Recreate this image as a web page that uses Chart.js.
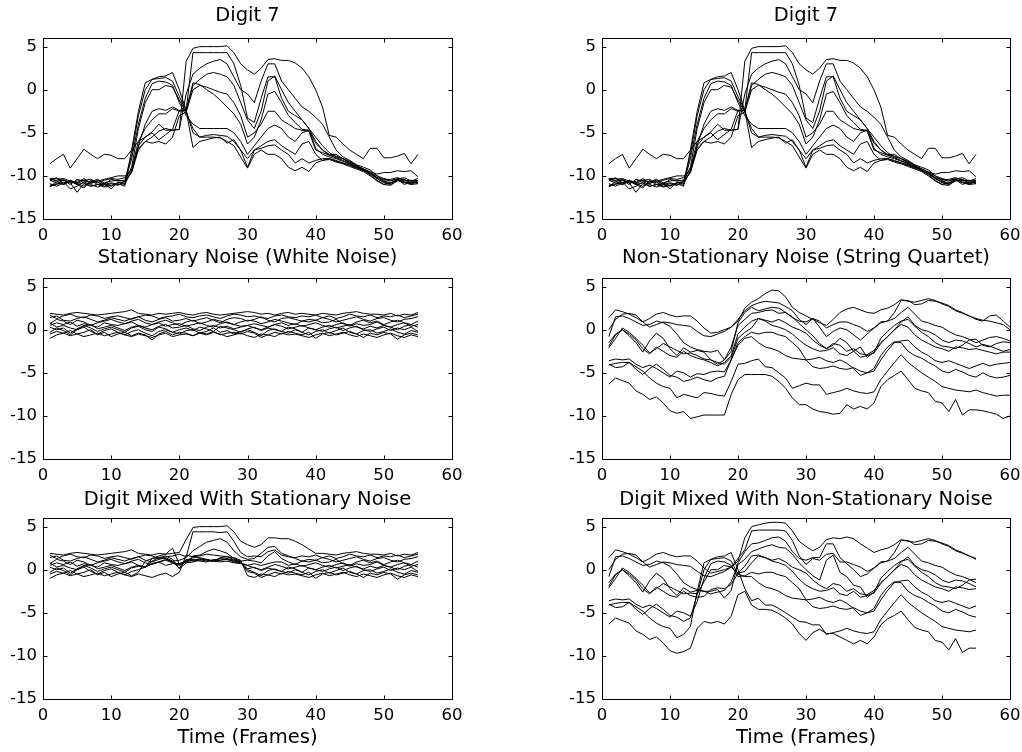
<!DOCTYPE html>
<html lang="en">
<head>
<meta charset="UTF-8">
<title>Digit 7 and noise</title>
<script src="https://cdn.jsdelivr.net/npm/chart.js@4.4.1/dist/chart.umd.min.js"></script>
<style>
  html, body { margin: 0; padding: 0; background: #fff; overflow: hidden; }
  .panel { position: absolute; }
</style>
</head>
<body>
<div class="panel" style="left:0;top:0;width:480px;height:245px"><canvas id="p1"></canvas></div>
<div class="panel" style="left:559px;top:0;width:463px;height:245px"><canvas id="p2"></canvas></div>
<div class="panel" style="left:0;top:245px;width:480px;height:242px"><canvas id="p3"></canvas></div>
<div class="panel" style="left:559px;top:245px;width:463px;height:242px"><canvas id="p4"></canvas></div>
<div class="panel" style="left:0;top:487px;width:480px;height:265px"><canvas id="p5"></canvas></div>
<div class="panel" style="left:559px;top:487px;width:463px;height:265px"><canvas id="p6"></canvas></div>

<script>
const frames55 = [1,2,3,4,5,6,7,8,9,10,11,12,13,14,15,16,17,18,19,20,21,22,23,24,25,26,27,28,29,30,
  31,32,33,34,35,36,37,38,39,40,41,42,43,44,45,46,47,48,49,50,51,52,53,54,55];
const frames60 = [1,2,3,4,5,6,7,8,9,10,11,12,13,14,15,16,17,18,19,20,21,22,23,24,25,26,27,28,29,30,
  31,32,33,34,35,36,37,38,39,40,41,42,43,44,45,46,47,48,49,50,51,52,53,54,55,56,57,58,59,60];
const xTickValues = [0, 10, 20, 30, 40, 50, 60];
const yTickValues = [-15, -10, -5, 0, 5];

// clean digit, one row per channel
const digit7 = [
  [-8.6,-8.0,-7.5,-9.1,-8.0,-6.9,-7.5,-8.0,-7.5,-7.6,-8.0,-8.0,-7.0,-6.0,-5.5,-4.9,-4.0,-4.7,-4.7,-4.6,3.3,4.8,5.0,5.0,5.0,5.0,5.1,4.3,3.0,2.3,1.8,2.5,3.5,3.6,3.4,3.4,3.1,2.5,1.5,0.0,-2.0,-5.3,-5.5,-6.3,-7.0,-7.5,-8.0,-6.8,-6.8,-7.9,-7.9,-7.7,-7.4,-8.6,-7.5],
  [-10.3,-10.3,-10.4,-10.8,-10.6,-10.5,-10.7,-10.6,-10.4,-10.2,-10.0,-10.0,-9.5,-6.5,-5.5,-5.0,-5.8,-5.2,-4.6,-2.4,-2.4,4.3,4.3,4.3,4.3,4.3,4.3,3.0,0.5,-3.3,-3.8,-1.0,1.5,1.5,-1.0,-2.5,-3.0,-3.5,-4.5,-6.0,-7.0,-7.5,-7.5,-8.0,-8.3,-8.8,-9.2,-9.5,-9.8,-9.6,-9.6,-9.4,-9.5,-9.4,-10.1],
  [-10.6,-10.2,-10.9,-10.5,-10.8,-10.3,-10.9,-10.5,-11.0,-10.4,-10.6,-10.5,-9.6,-7.0,-6.0,-5.5,-4.8,-4.5,-4.7,-4.6,-0.5,1.8,2.5,3.0,3.3,3.5,3.0,1.5,0.0,-0.5,-1.5,1.0,3.0,3.0,1.0,0.0,-1.0,-2.0,-2.5,-3.2,-4.0,-5.5,-7.0,-7.8,-8.2,-8.7,-9.0,-9.3,-10.0,-10.3,-10.5,-10.4,-10.2,-10.6,-10.5],
  [-10.4,-10.5,-10.3,-10.6,-10.9,-10.5,-10.4,-10.8,-10.5,-10.3,-10.4,-10.2,-9.2,-6.0,-4.5,-3.5,-2.8,-2.8,-2.2,-2.5,-2.4,0.5,1.2,1.8,2.0,1.8,1.5,0.5,-1.5,-3.5,-4.5,-2.5,1.0,1.6,0.0,-1.5,-2.5,-3.5,-4.5,-5.5,-6.5,-7.3,-7.8,-8.0,-8.4,-8.8,-9.2,-9.6,-10.0,-10.5,-10.4,-10.2,-10.5,-10.6,-10.3],
  [-10.9,-11.2,-10.8,-10.6,-11.0,-10.8,-11.2,-11.0,-10.9,-11.2,-10.8,-10.7,-9.6,-6.5,-4.0,-2.5,-2.2,-2.4,-2.0,-2.4,-2.4,0.8,0.6,0.0,-0.5,-1.2,-2.0,-2.8,-4.0,-6.3,-5.5,-3.5,-0.5,-0.2,-1.5,-3.0,-3.8,-4.6,-4.7,-6.8,-7.5,-7.8,-8.0,-8.3,-8.6,-9.0,-9.3,-9.7,-10.2,-10.6,-10.8,-10.5,-10.7,-10.9,-10.6],
  [-10.3,-10.6,-10.5,-11.0,-10.4,-10.6,-10.7,-10.4,-10.8,-10.6,-10.5,-10.6,-9.0,-4.5,-1.5,0.0,0.0,0.5,0.3,-1.2,-2.6,0.0,0.5,0.3,0.0,-0.3,-0.5,-1.5,-3.0,-5.5,-5.0,-4.0,-2.5,-2.5,-3.5,-4.0,-4.5,-4.7,-4.8,-7.0,-7.3,-7.6,-7.7,-8.0,-8.5,-8.9,-9.2,-9.6,-10.2,-10.4,-10.6,-10.3,-10.4,-10.8,-10.8],
  [-11.2,-11.0,-10.7,-11.5,-11.2,-10.7,-11.0,-11.3,-11.0,-10.8,-11.0,-10.9,-8.0,-4.0,-1.0,0.7,1.0,0.9,0.5,-1.5,-3.0,-4.0,-4.5,-4.5,-4.5,-4.5,-4.5,-5.0,-6.0,-7.5,-6.5,-5.5,-4.5,-4.1,-4.5,-5.5,-6.0,-5.0,-4.7,-6.2,-7.0,-7.6,-7.9,-8.2,-8.6,-9.0,-9.4,-9.8,-10.3,-10.7,-10.9,-10.4,-10.6,-10.5,-10.9],
  [-10.5,-10.8,-11.0,-10.6,-10.9,-11.2,-10.8,-10.7,-11.2,-10.9,-11.1,-10.6,-7.5,-3.0,0.0,1.2,1.3,1.4,1.0,-0.8,-2.4,-5.0,-5.5,-5.3,-5.2,-5.3,-5.4,-6.0,-7.0,-8.0,-7.0,-6.5,-6.0,-5.8,-6.5,-7.0,-7.5,-6.3,-6.0,-7.5,-8.2,-8.0,-8.3,-8.5,-8.7,-9.0,-9.4,-9.7,-10.3,-10.8,-11.0,-10.6,-10.4,-11.0,-10.5],
  [-11.1,-10.9,-10.5,-10.8,-11.9,-10.9,-11.2,-11.0,-11.3,-11.1,-10.9,-11.2,-7.0,-2.5,0.8,1.2,1.5,1.6,2.0,0.0,-2.4,-6.7,-6.0,-5.8,-5.6,-5.5,-6.2,-5.8,-7.0,-9.0,-7.0,-6.8,-6.5,-6.4,-7.0,-7.5,-8.5,-8.0,-8.5,-8.2,-8.0,-8.0,-8.2,-8.5,-8.8,-9.1,-9.3,-9.9,-10.5,-11.0,-10.8,-10.4,-11.0,-10.7,-10.8],
  [-11.3,-10.6,-11.0,-10.6,-11.0,-11.4,-10.5,-11.0,-10.9,-11.5,-10.7,-11.0,-9.4,-6.8,-6.0,-6.2,-6.0,-6.3,-5.5,-3.0,-2.6,-4.5,-5.5,-5.5,-5.5,-5.6,-6.0,-6.5,-7.8,-9.1,-7.5,-7.0,-7.5,-7.5,-8.0,-9.0,-9.4,-9.0,-9.5,-8.5,-8.2,-8.1,-8.4,-8.6,-8.9,-9.2,-9.5,-10.0,-10.6,-11.0,-11.1,-10.5,-10.8,-11.0,-10.9]
];

// white noise
const whiteNoise = [
  [1.9,1.8,1.7,1.9,2.0,1.9,1.8,1.7,1.8,1.9,2.0,2.1,2.3,1.9,1.8,1.7,1.9,1.8,1.9,2.0,1.8,1.7,1.9,2.0,1.8,1.7,1.8,1.9,2.0,2.1,2.0,1.8,1.9,1.7,1.9,2.0,1.8,1.9,1.8,1.7,1.9,1.8,1.7,1.9,2.0,2.1,1.9,1.8,1.8,1.7,1.9,1.6,1.8,1.7,2.0],
  [1.7,1.3,1.6,1.8,1.5,1.4,1.7,1.6,1.3,1.5,1.6,1.4,1.2,1.5,1.7,1.6,1.3,1.5,1.6,1.8,1.5,1.4,1.6,1.7,1.5,1.3,1.6,1.8,1.7,1.5,1.6,1.4,1.3,1.6,1.7,1.5,1.4,1.6,1.5,1.7,1.4,1.6,1.3,1.5,1.8,1.6,1.5,1.7,1.4,1.6,1.5,1.7,1.4,1.6,1.8],
  [1.4,1.6,1.1,1.0,1.3,1.5,1.2,0.9,1.1,1.4,1.2,1.0,1.3,1.5,1.1,0.9,1.2,1.4,1.0,1.1,1.3,1.0,1.2,1.4,1.1,0.8,1.2,1.4,1.3,1.0,1.2,1.5,1.1,0.9,1.3,1.4,1.2,1.0,1.2,1.1,1.4,1.2,0.9,1.1,1.3,1.5,1.2,1.0,1.3,1.4,1.1,0.9,1.2,1.3,1.5],
  [0.7,1.2,1.0,0.6,1.1,0.9,0.5,0.8,1.0,1.2,0.9,0.7,1.0,1.2,0.8,0.6,0.9,1.1,0.8,0.5,0.9,1.1,0.7,0.9,1.2,1.0,0.8,0.6,0.9,1.1,1.0,0.7,0.9,1.2,1.0,0.8,0.6,1.0,0.9,1.1,0.8,0.9,1.2,0.7,0.5,0.9,1.1,0.8,1.0,0.6,0.9,1.1,0.8,0.6,1.0],
  [0.5,0.8,0.6,0.9,0.4,0.7,0.5,0.3,0.8,0.6,0.5,0.7,0.9,0.5,0.3,0.6,0.8,0.4,0.6,0.7,0.4,0.6,0.8,0.5,0.3,0.7,0.9,0.6,0.4,0.5,0.7,0.5,0.3,0.6,0.8,0.5,0.7,0.4,0.6,0.8,0.5,0.3,0.6,0.8,0.4,0.7,0.5,0.6,0.9,0.5,0.3,0.6,0.8,0.4,0.6],
  [0.8,0.3,0.5,0.2,0.0,0.4,0.6,0.1,0.3,0.5,0.2,-0.1,0.3,0.5,0.2,0.0,0.4,0.6,0.2,0.3,0.5,0.1,-0.1,0.3,0.5,0.2,0.4,0.1,0.3,0.5,0.2,0.0,0.3,0.6,0.4,0.1,0.3,0.5,0.2,0.0,0.3,0.5,0.2,0.4,0.6,0.3,0.1,0.4,0.2,0.5,0.3,0.0,0.4,0.6,0.3],
  [0.3,0.0,0.2,-0.4,0.1,0.5,0.2,-0.2,0.1,0.3,0.0,-0.3,0.2,0.4,0.0,-0.2,0.3,0.1,-0.3,0.0,0.2,-0.1,0.3,0.1,-0.2,0.4,0.2,0.0,-0.3,0.1,0.3,-0.1,0.2,0.0,-0.2,0.3,0.1,-0.3,0.2,0.0,-0.2,0.1,0.3,-0.1,0.2,0.4,0.0,-0.2,0.1,0.3,-0.1,0.2,0.0,0.3,-0.2],
  [-0.3,0.2,-0.1,-0.6,0.0,0.3,-0.2,-0.5,-0.1,0.1,-0.3,-0.6,-0.2,0.0,-0.4,-0.7,-0.2,0.0,-0.3,-0.5,-0.1,0.0,-0.4,-0.2,0.2,-0.3,-0.1,-0.5,-0.2,0.0,-0.3,-0.7,-0.1,0.1,-0.2,-0.4,0.0,-0.3,-0.6,-0.2,0.0,-0.4,-0.1,0.2,-0.3,-0.5,-0.1,0.0,-0.4,-0.2,0.1,-0.3,-0.5,-0.1,-0.3],
  [-0.5,-0.2,-0.4,-0.1,-0.5,-0.3,0.0,-0.6,-0.3,-0.8,-0.5,-0.3,-0.7,-0.4,-0.6,-1.2,-0.5,-0.2,-0.6,-0.3,-0.4,-0.7,-0.3,-0.5,-0.2,-0.6,-0.4,-0.3,-0.5,-0.2,-0.4,-0.9,-0.6,-0.3,-0.5,-0.2,-0.4,-0.6,-0.3,-1.0,-0.5,-0.3,-0.6,-0.4,-0.2,-0.5,-0.9,-0.4,-0.6,-0.3,-0.5,-1.1,-0.6,-0.4,-0.6],
  [-1.0,-0.6,-0.4,-0.7,-0.5,-0.8,-0.6,-0.4,-0.7,-0.5,-0.3,-0.6,-0.8,-0.5,-0.7,-0.9,-0.6,-0.4,-0.8,-0.6,-0.5,-0.7,-0.4,-0.6,-0.3,-0.5,-0.8,-0.6,-0.4,-0.7,-0.9,-0.5,-0.6,-0.8,-0.4,-0.6,-0.5,-0.7,-0.9,-0.6,-0.4,-0.7,-0.5,-0.3,-0.6,-0.8,-0.5,-0.7,-0.9,-0.6,-0.4,-0.7,-0.9,-0.6,-0.8]
];

// string quartet noise
const quartetNoise = [
  [1.4,2.3,2.1,1.8,1.4,0.9,1.3,1.8,2.0,1.7,1.5,1.6,1.6,1.0,0.2,-0.4,-0.3,0.0,0.3,1.0,2.5,3.2,3.6,4.2,4.6,4.5,3.8,2.6,2.0,1.6,1.2,0.8,0.5,1.2,2.0,2.4,2.6,2.3,2.0,1.9,2.3,2.5,2.9,3.5,3.3,3.2,3.4,3.6,3.4,3.0,2.7,2.2,1.9,1.6,1.2,1.0,1.6,1.7,1.0,0.3],
  [0.0,1.2,1.8,1.9,1.7,0.9,0.3,0.6,0.9,0.8,0.6,0.5,0.4,-0.2,-0.7,-0.8,-0.5,-0.2,0.3,1.2,2.2,2.8,3.1,3.3,3.2,3.1,2.7,2.2,1.2,0.6,1.3,1.0,0.2,0.6,0.9,0.9,0.6,0.3,-0.2,0.2,0.9,1.0,2.0,3.4,3.4,2.9,3.0,3.4,3.3,3.1,2.8,2.3,2.0,1.6,1.3,1.1,1.0,0.8,0.6,0.0],
  [-0.8,1.5,1.6,1.3,0.9,0.5,0.6,1.0,0.8,0.4,-0.5,-1.5,-2.0,-2.3,-2.5,-2.6,-2.4,-3.5,-2.5,0.8,2.0,2.6,2.2,2.4,2.6,2.5,2.0,1.4,1.0,0.9,1.3,0.3,-0.8,-0.2,0.2,0.0,-0.6,-1.2,-0.5,0.2,0.8,1.0,1.3,2.0,2.6,1.8,1.0,0.8,0.5,0.3,-0.2,-0.6,-0.8,-1.1,-1.5,-1.2,-0.9,-0.8,-1.0,-1.3],
  [-1.5,-0.5,0.0,-0.7,-1.5,-2.6,-1.3,-0.4,-1.0,-2.2,-3.0,-2.1,-2.6,-2.4,-2.6,-3.5,-4.0,-3.5,-2.0,0.5,1.2,1.9,2.0,2.2,2.3,1.9,2.0,1.5,0.7,0.0,-0.7,-1.6,-2.2,-1.8,-1.0,-1.5,-2.5,-2.0,-3.2,-2.6,-1.0,-0.2,0.5,1.0,1.2,0.4,-0.3,-0.8,-1.5,-1.9,-2.0,-2.2,-1.8,-1.2,-1.1,-1.8,-2.0,-1.6,-1.4,-1.5],
  [-1.9,-0.6,0.0,-0.5,-1.2,-2.2,-2.8,-2.0,-2.5,-3.0,-3.2,-2.5,-3.0,-3.3,-3.5,-3.8,-4.2,-3.8,-3.0,-0.5,0.3,1.0,1.3,1.1,0.9,1.2,0.8,0.3,0.0,-0.4,-1.2,-1.8,-2.2,-1.6,-1.8,-2.5,-2.2,-2.8,-2.9,-2.4,-1.5,-0.8,0.0,0.9,1.5,0.5,0.0,-0.2,-0.6,-1.2,-1.5,-1.2,-1.3,-1.6,-2.0,-1.7,-1.9,-2.2,-2.5,-2.3],
  [-2.1,-1.0,0.2,-0.3,-1.0,-1.8,-2.7,-2.2,-1.6,-2.0,-2.4,-2.8,-2.7,-3.0,-3.4,-3.5,-3.8,-4.0,-3.2,-1.0,-0.3,0.2,1.3,1.0,0.5,0.3,0.0,-0.5,-1.2,-1.8,-2.2,-2.5,-2.4,-2.1,-2.8,-3.0,-2.5,-3.2,-3.0,-2.7,-1.6,-0.8,0.0,0.6,0.3,-0.6,-1.2,-1.6,-2.0,-2.2,-2.5,-2.0,-2.1,-2.3,-2.2,-2.4,-2.6,-2.8,-2.6,-2.6],
  [-3.6,-3.4,-3.5,-3.4,-4.0,-4.4,-4.1,-4.5,-5.0,-5.5,-4.8,-5.0,-5.5,-5.1,-5.2,-4.9,-4.8,-4.9,-3.5,-1.5,-0.8,-0.3,-0.5,-0.3,-0.3,-0.6,-0.8,-1.5,-2.2,-3.5,-4.3,-4.5,-4.4,-4.2,-4.5,-4.6,-4.4,-4.8,-5.0,-4.8,-3.5,-2.4,-1.5,-1.3,-1.2,-2.0,-2.6,-3.0,-3.6,-3.8,-3.6,-3.9,-4.2,-4.5,-4.2,-3.9,-4.2,-4.0,-3.9,-3.8],
  [-4.0,-4.4,-4.3,-3.8,-4.6,-5.2,-4.5,-4.0,-4.6,-5.3,-5.5,-6.0,-5.8,-5.5,-5.8,-6.0,-5.6,-5.4,-3.5,-1.8,-1.0,-0.8,-1.5,-2.0,-2.2,-2.5,-3.0,-3.3,-3.4,-3.5,-3.4,-3.2,-3.6,-3.8,-3.5,-3.9,-4.5,-5.3,-5.0,-4.5,-3.0,-2.0,-1.4,-1.5,-2.5,-3.0,-3.3,-3.8,-4.2,-4.8,-5.0,-4.6,-4.9,-5.3,-5.5,-5.0,-5.4,-5.6,-5.5,-5.3],
  [-4.1,-3.9,-3.8,-3.8,-4.3,-4.8,-5.6,-6.2,-6.6,-6.8,-7.9,-7.5,-7.7,-7.9,-7.3,-7.4,-7.6,-7.7,-6.0,-4.0,-3.9,-3.6,-3.4,-4.3,-4.4,-5.0,-5.6,-6.8,-6.5,-6.2,-6.4,-6.4,-7.5,-7.3,-7.1,-6.8,-7.1,-7.3,-7.4,-7.2,-5.8,-4.8,-3.8,-2.9,-3.8,-4.4,-5.0,-5.5,-6.0,-6.6,-6.8,-7.0,-7.1,-7.2,-7.0,-7.3,-7.5,-7.7,-7.6,-7.6],
  [-6.3,-5.6,-5.9,-6.2,-7.1,-7.5,-8.1,-7.8,-8.5,-9.4,-9.7,-9.5,-10.3,-10.1,-9.9,-9.9,-9.9,-9.9,-7.5,-5.8,-5.2,-5.2,-5.2,-5.2,-5.4,-6.0,-6.8,-7.9,-8.7,-8.7,-9.2,-9.5,-9.6,-9.8,-9.7,-8.7,-9.2,-8.9,-9.2,-8.5,-6.6,-5.8,-5.3,-4.8,-5.8,-6.8,-7.1,-7.3,-8.3,-8.5,-9.5,-8.1,-9.9,-9.3,-9.3,-9.4,-9.6,-9.8,-10.3,-10.0]
];

// digit + white noise
const mixedWhite = [
  [1.9,1.8,1.7,1.9,2.0,1.9,1.8,1.7,1.8,1.9,2.0,2.1,2.3,1.9,1.8,1.7,1.9,1.8,1.9,2.0,3.5,4.9,5.0,5.0,5.0,5.0,5.1,4.4,3.3,2.9,2.6,2.9,3.7,3.7,3.6,3.6,3.3,2.9,2.4,1.9,1.9,1.8,1.7,1.9,2.0,2.1,1.9,1.8,1.8,1.7,1.9,1.6,1.8,1.7,2.0],
  [1.7,1.3,1.6,1.8,1.5,1.4,1.7,1.6,1.3,1.5,1.6,1.4,1.2,1.5,1.7,1.6,1.3,1.5,1.6,1.8,1.5,4.4,4.4,4.4,4.4,4.3,4.4,3.3,2.0,1.5,1.6,1.5,2.1,2.3,1.7,1.5,1.4,1.6,1.5,1.7,1.4,1.6,1.3,1.5,1.8,1.6,1.5,1.7,1.4,1.6,1.5,1.7,1.4,1.6,1.8],
  [1.4,1.6,1.1,1.0,1.3,1.5,1.2,0.9,1.1,1.4,1.2,1.0,1.3,1.5,1.1,0.9,1.2,1.4,1.0,1.1,1.4,2.2,2.7,3.2,3.4,3.6,3.2,2.2,1.5,1.2,1.3,1.9,2.6,2.7,1.9,1.6,1.3,1.0,1.2,1.1,1.4,1.2,0.9,1.1,1.3,1.5,1.2,1.0,1.3,1.4,1.1,0.9,1.2,1.3,1.5],
  [0.7,1.2,1.0,0.6,1.1,0.9,0.5,0.8,1.0,1.2,0.9,0.7,1.0,1.2,0.8,0.6,0.9,1.1,0.8,0.5,0.9,1.6,1.7,2.1,2.4,2.2,1.9,1.3,1.0,1.1,1.0,0.8,1.6,2.1,1.3,0.9,0.6,1.0,0.9,1.1,0.8,0.9,1.2,0.7,0.5,0.9,1.1,0.8,1.0,0.6,0.9,1.1,0.8,0.6,1.0],
  [0.5,0.8,0.6,0.9,0.4,0.7,0.5,0.3,0.8,0.6,0.5,0.7,0.9,0.5,0.3,0.7,0.9,0.5,0.7,0.7,1.0,1.4,1.4,1.2,1.0,1.1,1.2,0.9,0.8,0.5,0.7,0.5,0.7,0.9,0.9,0.5,0.7,0.4,0.6,0.8,0.5,0.3,0.6,0.8,0.4,0.7,0.5,0.6,0.9,0.5,0.3,0.6,0.8,0.4,0.6],
  [0.8,0.3,0.5,0.2,0.0,0.4,0.6,0.1,0.3,0.5,0.2,-0.1,0.3,0.5,0.3,0.7,0.9,1.2,0.9,0.6,0.9,1.1,1.2,1.0,1.0,0.9,1.0,0.8,0.7,0.5,0.2,0.0,0.3,0.6,0.4,0.1,0.3,0.5,0.2,0.0,0.3,0.5,0.2,0.4,0.6,0.3,0.1,0.4,0.2,0.5,0.3,0.0,0.4,0.6,0.3],
  [0.3,0.0,0.2,-0.4,0.1,0.5,0.2,-0.2,0.1,0.3,0.0,-0.3,0.2,0.4,0.3,1.0,1.4,1.3,0.9,0.2,1.2,1.0,1.3,1.1,1.0,1.4,1.5,1.2,0.9,0.1,0.3,-0.1,0.2,0.0,-0.2,0.3,0.1,-0.3,0.2,0.0,-0.2,0.1,0.3,-0.1,0.2,0.4,0.0,-0.2,0.1,0.3,-0.1,0.2,0.0,0.3,-0.2],
  [-0.3,0.2,-0.1,-0.6,0.0,0.3,-0.2,-0.5,-0.1,0.1,-0.3,-0.6,-0.2,0.0,0.3,1.3,1.4,1.6,1.2,0.1,0.8,0.9,1.1,1.2,1.0,1.3,1.2,1.0,0.8,0.0,-0.3,-0.7,-0.1,0.1,-0.2,-0.4,0.0,-0.3,-0.6,-0.2,0.0,-0.4,-0.1,0.2,-0.3,-0.5,-0.1,0.0,-0.4,-0.2,0.1,-0.3,-0.5,-0.1,-0.3],
  [-0.5,-0.2,-0.4,-0.1,-0.5,-0.3,0.0,-0.6,-0.3,-0.8,-0.5,-0.3,-0.7,-0.3,1.0,1.3,1.6,1.8,2.5,0.6,1.1,1.2,1.0,0.9,1.2,1.1,1.3,1.1,0.9,-0.2,-0.4,-0.9,-0.6,-0.3,-0.5,-0.2,-0.4,-0.6,-0.3,-1.0,-0.5,-0.3,-0.6,-0.4,-0.2,-0.5,-0.9,-0.4,-0.6,-0.3,-0.5,-1.1,-0.6,-0.4,-0.6],
  [-1.0,-0.6,-0.4,-0.7,-0.5,-0.8,-0.6,-0.4,-0.7,-0.5,-0.3,-0.6,-0.8,-0.5,-0.7,-0.9,-0.6,-0.4,-0.8,-0.3,1.7,1.5,1.6,1.8,1.7,1.6,1.5,1.4,1.1,-0.7,-0.9,-0.5,-0.6,-0.8,-0.4,-0.6,-0.5,-0.7,-0.9,-0.6,-0.4,-0.7,-0.5,-0.3,-0.6,-0.8,-0.5,-0.7,-0.9,-0.6,-0.4,-0.7,-0.9,-0.6,-0.8]
];

// digit + string quartet
const mixedQuartet = [
  [1.4,2.3,2.1,1.8,1.4,0.9,1.3,1.8,2.0,1.7,1.5,1.6,1.6,1.0,0.2,-0.4,-0.2,0.0,0.3,1.0,3.7,5.0,5.2,5.4,5.5,5.5,5.4,4.5,3.3,2.7,2.2,2.6,3.5,3.7,3.6,3.8,3.6,3.0,2.5,2.0,2.3,2.5,2.9,3.5,3.3,3.2,3.4,3.6,3.4,3.0,2.7,2.2,1.9,1.6,1.2],
  [0.0,1.2,1.8,1.9,1.7,0.9,0.3,0.6,0.9,0.8,0.6,0.5,0.4,-0.2,-0.7,-0.8,-0.5,-0.2,0.3,1.3,2.3,4.5,4.6,4.6,4.6,4.6,4.5,3.4,1.6,0.6,1.3,1.1,1.8,1.9,0.9,0.9,0.6,0.3,-0.2,0.2,0.9,1.0,2.0,3.4,3.4,2.9,3.0,3.4,3.3,3.1,2.8,2.3,2.0,1.6,1.3],
  [-0.8,1.5,1.6,1.3,0.9,0.5,0.6,1.0,0.8,0.4,-0.5,-1.5,-2.0,-2.3,-2.5,-2.5,-2.3,-3.3,-2.4,0.8,2.1,3.0,3.1,3.4,3.7,3.8,3.3,2.1,1.3,1.1,1.4,1.4,3.0,3.0,1.4,0.7,0.0,-0.8,-0.5,0.2,0.8,1.0,1.3,2.0,2.6,1.8,1.0,0.8,0.5,0.3,-0.2,-0.6,-0.8,-1.1,-1.5],
  [-1.5,-0.5,0.0,-0.7,-1.5,-2.6,-1.3,-0.4,-1.0,-2.2,-3.0,-2.1,-2.6,-2.4,-2.5,-2.8,-2.6,-2.4,-1.4,0.6,1.2,2.1,2.4,2.7,2.9,2.6,2.5,1.8,0.8,0.0,-0.7,-1.2,1.1,1.7,-0.3,-0.8,-1.8,-2.0,-3.2,-2.6,-1.0,-0.2,0.5,1.0,1.2,0.4,-0.3,-0.8,-1.5,-1.9,-2.0,-2.2,-1.8,-1.2,-1.1],
  [-1.9,-0.6,0.0,-0.5,-1.2,-2.2,-2.8,-2.0,-2.5,-3.0,-3.2,-2.5,-3.0,-3.2,-3.1,-2.3,-2.1,-2.2,-1.7,-0.4,0.4,1.6,1.7,1.4,1.1,1.3,0.9,0.3,0.0,-0.4,-1.2,-1.8,-2.2,-1.6,-1.8,-2.5,-2.2,-2.8,-2.9,-2.4,-1.5,-0.8,0.0,0.9,1.5,0.5,0.0,-0.2,-0.6,-1.2,-1.5,-1.2,-1.3,-1.6,-2.0],
  [-2.1,-1.0,0.2,-0.3,-1.0,-1.8,-2.7,-2.2,-1.6,-2.0,-2.4,-2.8,-2.7,-2.8,-1.4,0.0,0.0,0.5,0.3,-0.4,-0.2,0.8,1.6,1.4,1.0,0.8,0.5,-0.2,-1.1,-1.8,-2.2,-2.5,-2.4,-2.1,-2.8,-3.0,-2.5,-3.2,-3.0,-2.7,-1.6,-0.8,0.0,0.6,0.3,-0.6,-1.2,-1.6,-2.0,-2.2,-2.5,-2.0,-2.1,-2.3,-2.2],
  [-3.6,-3.4,-3.5,-3.4,-4.0,-4.4,-4.1,-4.5,-5.0,-5.5,-4.8,-5.0,-5.4,-3.7,-1.0,0.7,1.0,0.9,0.5,-0.8,-0.7,-0.3,-0.5,-0.3,-0.3,-0.6,-0.8,-1.5,-2.2,-3.5,-4.3,-4.5,-4.4,-4.2,-4.5,-4.6,-4.4,-4.8,-5.0,-4.8,-3.5,-2.4,-1.5,-1.3,-1.2,-2.0,-2.6,-3.0,-3.6,-3.8,-3.6,-3.9,-4.2,-4.5,-4.2],
  [-4.0,-4.4,-4.3,-3.8,-4.6,-5.2,-4.5,-4.0,-4.6,-5.3,-5.5,-6.0,-5.6,-2.9,0.0,1.2,1.3,1.4,1.0,-0.5,-0.8,-0.8,-1.5,-2.0,-2.2,-2.5,-3.0,-3.3,-3.4,-3.5,-3.4,-3.2,-3.6,-3.8,-3.5,-3.9,-4.5,-5.3,-5.0,-4.5,-3.0,-2.0,-1.4,-1.5,-2.5,-3.0,-3.3,-3.8,-4.2,-4.8,-5.0,-4.6,-4.9,-5.3,-5.5],
  [-4.1,-3.9,-3.8,-3.8,-4.3,-4.8,-5.6,-6.2,-6.6,-6.8,-7.9,-7.5,-6.6,-2.5,0.8,1.2,1.5,1.6,2.0,0.0,-2.2,-3.6,-3.3,-4.1,-4.1,-4.5,-5.0,-5.5,-6.0,-6.1,-6.4,-6.4,-7.5,-7.3,-7.1,-6.8,-7.1,-7.3,-7.4,-7.2,-5.8,-4.8,-3.8,-2.9,-3.8,-4.4,-5.0,-5.5,-6.0,-6.6,-6.8,-7.0,-7.1,-7.2,-7.0],
  [-6.3,-5.6,-5.9,-6.2,-7.1,-7.5,-8.1,-7.8,-8.5,-9.4,-9.7,-9.5,-9.1,-6.8,-6.0,-6.2,-6.0,-6.3,-5.4,-2.9,-2.5,-4.1,-4.6,-4.6,-4.7,-5.1,-5.6,-6.3,-7.4,-8.2,-7.3,-6.9,-7.4,-7.4,-7.8,-8.2,-8.6,-8.2,-8.6,-7.8,-6.4,-5.7,-5.3,-4.8,-5.8,-6.7,-7.0,-7.2,-8.2,-8.4,-9.3,-8.0,-9.6,-9.1,-9.1]
];

Chart.defaults.font.family = '"DejaVu Sans", sans-serif';
Chart.defaults.font.size = 16.5;
Chart.defaults.color = '#000';

// matlab style box with inward ticks on all four sides
const boxTicks = {
  id: 'boxTicks',
  afterDatasetsDraw(chart) {
    const { ctx, chartArea: a, scales: { x, y } } = chart;
    const L = Math.round(a.left) + 0.5, R = Math.round(a.right) + 0.5;
    const T = Math.round(a.top) + 0.5, B = Math.round(a.bottom) + 0.5;
    ctx.save();
    ctx.strokeStyle = '#000';
    ctx.lineWidth = 1;
    ctx.strokeRect(L, T, R - L, B - T);
    ctx.beginPath();
    x.ticks.forEach(t => {
      const px = Math.round(x.getPixelForValue(t.value)) + 0.5;
      ctx.moveTo(px, B); ctx.lineTo(px, B - 4);
      ctx.moveTo(px, T); ctx.lineTo(px, T + 4);
    });
    y.ticks.forEach(t => {
      const py = Math.round(y.getPixelForValue(t.value)) + 0.5;
      ctx.moveTo(L, py); ctx.lineTo(L + 4, py);
      ctx.moveTo(R, py); ctx.lineTo(R - 4, py);
    });
    ctx.stroke();
    ctx.restore();
  }
};

function toDatasets(rows, frames) {
  return rows.map(row => ({
    data: row.map((v, i) => ({ x: frames[i], y: v })),
    borderColor: '#000',
    borderWidth: 1,
    pointRadius: 0,
    tension: 0,
    fill: false
  }));
}

const hiddenGrid = len => ({ display: true, drawOnChartArea: false, color: 'rgba(0,0,0,0)', tickLength: len });

function panel(id, title, frames, rows, o) {
  return new Chart(document.getElementById(id), {
    type: 'line',
    data: { datasets: toDatasets(rows, frames) },
    options: {
      responsive: true,
      maintainAspectRatio: false,
      animation: false,
      events: [],
      layout: { padding: { left: 0, right: o.padRight, top: 0, bottom: 0 } },
      plugins: {
        legend: { display: false },
        tooltip: { enabled: false },
        title: {
          display: true,
          text: title,
          fullSize: false,
          color: '#000',
          font: { size: 19.5, weight: 'normal' },
          padding: { top: o.titleTop, bottom: o.titleBottom }
        }
      },
      scales: {
        x: {
          type: 'linear',
          min: 0,
          max: 60,
          afterBuildTicks: s => { s.ticks = xTickValues.map(v => ({ value: v })); },
          afterFit: s => { s.height = o.xHeight; },
          grid: hiddenGrid(7),
          border: { display: false },
          ticks: { padding: 0, maxRotation: 0, color: '#000' },
          title: {
            display: !!o.xTitle,
            text: o.xTitle || '',
            color: '#000',
            font: { size: 19.5, weight: 'normal' },
            padding: { top: 0, bottom: 2.3 }
          }
        },
        y: {
          type: 'linear',
          min: -15,
          max: 6,
          afterBuildTicks: s => { s.ticks = yTickValues.map(v => ({ value: v })); },
          afterFit: s => { s.width = 43; },
          grid: hiddenGrid(6),
          border: { display: false },
          ticks: { padding: 0, color: '#000' }
        }
      }
    },
    plugins: [boxTicks]
  });
}

panel('p1', 'Digit 7', frames55, digit7, { padRight: 28, titleTop: 4.3, titleBottom: 10.3, xHeight: 26 });
panel('p2', 'Digit 7', frames55, digit7, { padRight: 12, titleTop: 4.3, titleBottom: 10.3, xHeight: 26 });
panel('p3', 'Stationary Noise (White Noise)', frames55, whiteNoise, { padRight: 28, titleTop: 0.8, titleBottom: 8.8, xHeight: 28 });
panel('p4', 'Non-Stationary Noise (String Quartet)', frames60, quartetNoise, { padRight: 12, titleTop: 0.8, titleBottom: 8.8, xHeight: 28 });
panel('p5', 'Digit Mixed With Stationary Noise', frames55, mixedWhite, { padRight: 28, titleTop: 1.3, titleBottom: 6.3, xHeight: 53, xTitle: 'Time (Frames)' });
panel('p6', 'Digit Mixed With Non-Stationary Noise', frames55, mixedQuartet, { padRight: 12, titleTop: 1.3, titleBottom: 6.3, xHeight: 53, xTitle: 'Time (Frames)' });
</script>
</body>
</html>
